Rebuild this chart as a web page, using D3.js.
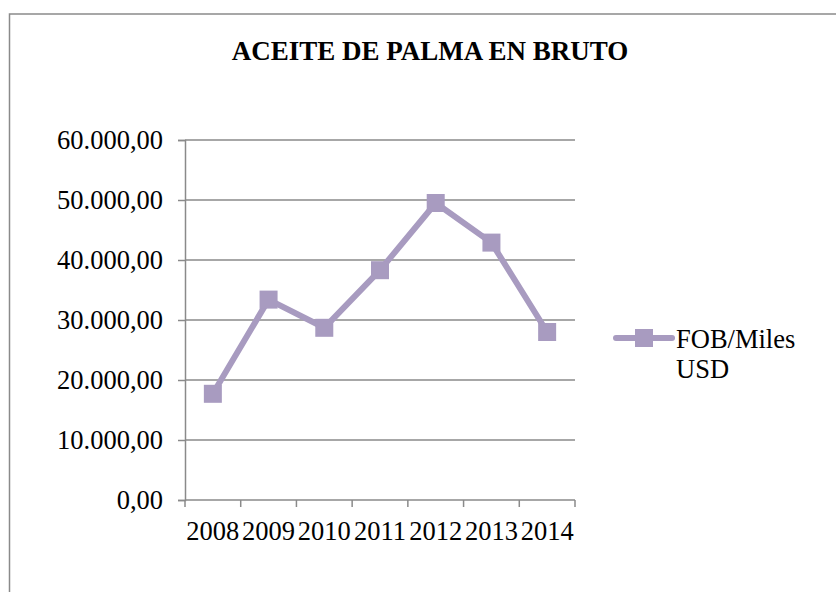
<!DOCTYPE html>
<html lang="es">
<head>
    <meta charset="UTF-8">
    <script src="https://d3js.org/d3.v7.min.js"></script>
    <title>Aceite de palma en bruto</title>
    <style>
        body {
            margin: 0;
            overflow: hidden;
            background: white;
        }

        text {
            font-family: "Liberation Serif", "Times New Roman", serif;
            fill: #000;
        }
    </style>
</head>
<body>
    <script>
        const years = ["2008", "2009", "2010", "2011", "2012", "2013", "2014"];
        const fobValues = [17700, 33400, 28700, 38300, 49500, 42900, 28000];
        const yTicks = [0, 10000, 20000, 30000, 40000, 50000, 60000];
        const seriesName = ["FOB/Miles", "USD"];
        const title = "ACEITE DE PALMA EN BRUTO";

        const width = 836,
              height = 592;

        const color = "#a89bc0",
              gridColor = "#8a8a8a";

        const svg = d3.select('body')
            .append('svg')
            .attr('width', width)
            .attr('height', height);

        // chart frame (right and bottom edges fall outside the window)
        svg.append('rect')
            .attr('x', 9.5)
            .attr('y', 14)
            .attr('width', 900)
            .attr('height', 700)
            .attr('fill', 'white')
            .attr('stroke', gridColor)
            .attr('stroke-width', 1.5);

        const margin = { top: 140, left: 185, right: 261, bottom: 92 };

        const x = d3.scaleBand()
            .domain(years)
            .range([margin.left, width - margin.right]);

        const y = d3.scaleLinear()
            .domain([0, 60000])
            .range([height - margin.bottom, margin.top]);

        const fmt = d3.formatLocale({ decimal: ",", thousands: ".", grouping: [3], currency: ["", ""] }).format(",.2f");

        // gridlines
        svg.append('g')
            .selectAll('line')
            .data(yTicks.filter(d => d > 0))
            .join('line')
            .attr('x1', margin.left)
            .attr('x2', width - margin.right)
            .attr('y1', d => y(d))
            .attr('y2', d => y(d))
            .attr('stroke', gridColor)
            .attr('stroke-width', 1.5);

        const yAxis = svg.append('g')
            .attr('transform', `translate(${margin.left}, 0)`)
            .call(d3.axisLeft(y).tickValues(yTicks).tickFormat(fmt).tickSizeOuter(0).tickSize(7).tickPadding(15));

        const xAxis = svg.append('g')
            .attr('transform', `translate(0, ${height - margin.bottom})`)
            .call(d3.axisBottom(x).tickSize(0).tickPadding(21));

        // category boundary ticks
        const bounds = years.map(d => x(d)).concat([x.range()[1]]);
        xAxis.selectAll('.bound')
            .data(bounds)
            .join('line')
            .attr('class', 'bound')
            .attr('x1', d => d)
            .attr('x2', d => d)
            .attr('y1', 0)
            .attr('y2', 7)
            .attr('stroke', gridColor)
            .attr('stroke-width', 1.5);

        [yAxis, xAxis].forEach(g => {
            g.selectAll('.domain').attr('stroke', gridColor).attr('stroke-width', 1.5);
            g.selectAll('.tick line').attr('stroke', gridColor).attr('stroke-width', 1.5);
            g.selectAll('.tick text')
                .attr('font-family', '"Liberation Serif", "Times New Roman", serif')
                .attr('font-size', 26.5)
                .attr('fill', '#000');
        });
        xAxis.select('.domain').attr('d', `M${x.range()[0]},0H${x.range()[1]}`);

        const line = d3.line()
            .x((d, i) => x(years[i]) + x.bandwidth() / 2)
            .y(d => y(d));

        svg.append('path')
            .datum(fobValues)
            .attr('fill', 'none')
            .attr('stroke', color)
            .attr('stroke-width', 6)
            .attr('stroke-linejoin', 'round')
            .attr('d', line);

        const size = 18;
        svg.selectAll('.marker')
            .data(fobValues)
            .join('rect')
            .attr('class', 'marker')
            .attr('x', (d, i) => x(years[i]) + x.bandwidth() / 2 - size / 2)
            .attr('y', d => y(d) - size / 2)
            .attr('width', size)
            .attr('height', size)
            .attr('fill', color);

        // title
        svg.append('text')
            .attr('x', 430)
            .attr('y', 60)
            .attr('text-anchor', 'middle')
            .attr('font-weight', 'bold')
            .attr('font-size', 27)
            .text(title);

        // legend
        const legend = svg.append('g')
            .attr('transform', 'translate(616, 338)');

        legend.append('line')
            .attr('x1', 0)
            .attr('x2', 56)
            .attr('stroke', color)
            .attr('stroke-width', 6)
            .attr('stroke-linecap', 'round');

        legend.append('rect')
            .attr('x', 28 - size / 2)
            .attr('y', -size / 2)
            .attr('width', size)
            .attr('height', size)
            .attr('fill', color);

        legend.selectAll('.lbl')
            .data(seriesName)
            .join('text')
            .attr('class', 'lbl')
            .attr('x', 60)
            .attr('y', (d, i) => 10 + i * 30)
            .attr('font-size', 26.5)
            .text(d => d);
    </script>
</body>
</html>
